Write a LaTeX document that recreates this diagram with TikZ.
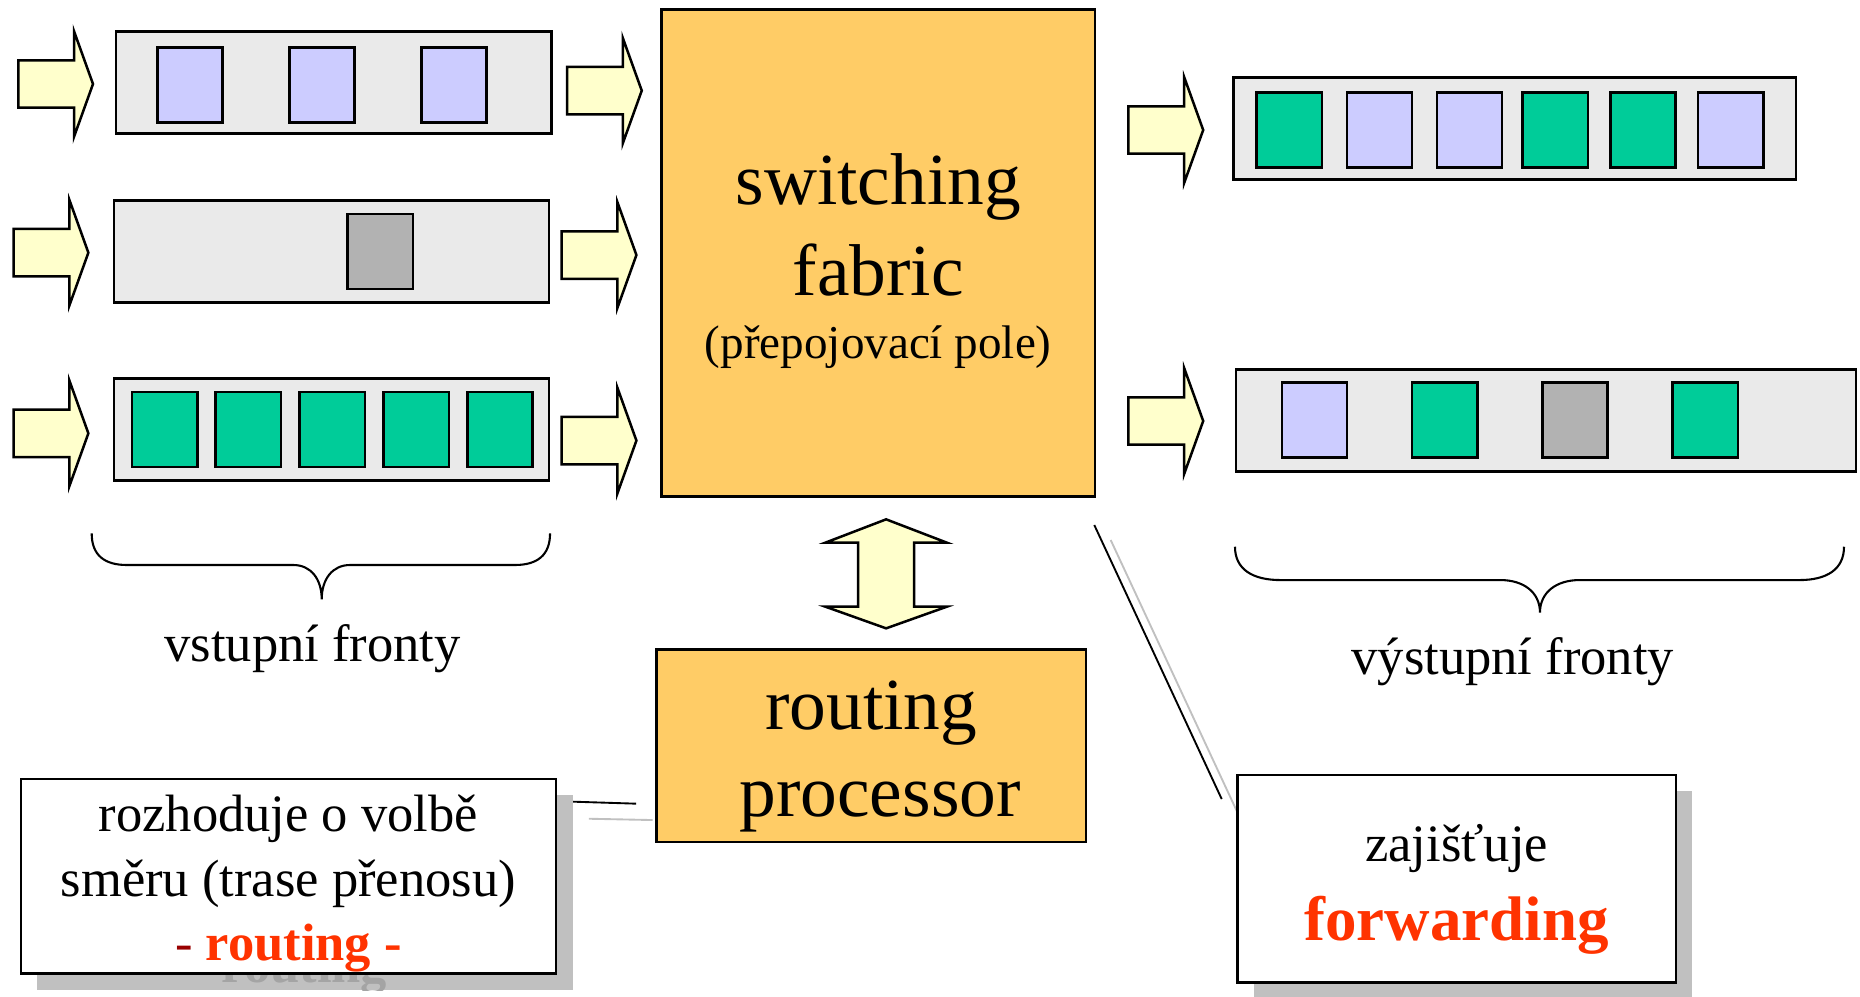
\documentclass[tikz,border=0pt]{standalone}
\usepackage{fontspec}
\setmainfont{Liberation Serif}
\usetikzlibrary{positioning,calc}

\definecolor{queuebg}{HTML}{EAEAEA}
\definecolor{pktblue}{HTML}{CCCCFF}
\definecolor{pktgreen}{HTML}{00CC99}
\definecolor{pktgray}{HTML}{B2B2B2}
\definecolor{arrowfill}{HTML}{FFFFCC}
\definecolor{unitfill}{HTML}{FFCC66}
\definecolor{shadowgray}{HTML}{C0C0C0}
\definecolor{ghostgray}{HTML}{A4A4A4}
\definecolor{fwred}{HTML}{FF3300}
\definecolor{dashred}{HTML}{990000}

\tikzset{
  queue/.style={draw, line width=0.6pt, fill=queuebg, minimum height=0.86cm, inner sep=0pt},
  packet/.style={draw, line width=0.6pt, minimum width=0.55cm, minimum height=0.63cm, inner sep=0pt},
  bluepkt/.style={packet, fill=pktblue},
  greenpkt/.style={packet, fill=pktgreen},
  graypkt/.style={packet, fill=pktgray},
  unit/.style={draw, line width=0.6pt, fill=unitfill, inner sep=0pt},
  callout/.style={draw, line width=0.6pt, fill=white, inner sep=0pt},
  calloutshadow/.style={fill=shadowgray, inner sep=0pt},
  leader/.style={line width=0.45pt},
  leadershadow/.style={line width=0.45pt, draw=shadowgray},
  braceline/.style={line width=0.5pt},
  bigtext/.style={anchor=base, inner sep=0pt, font=\fontsize{17.6}{21}\selectfont},
  smalltext/.style={anchor=base, inner sep=0pt, font=\fontsize{11.3}{13.5}\selectfont},
  labeltext/.style={anchor=base, inner sep=0pt, font=\fontsize{12.6}{15}\selectfont},
  fatarrow/.pic={
    \draw[fill=arrowfill, line width=0.6pt] (0,0) -- (-0.16,0.445) -- (-0.16,0.2)
      -- (-0.63,0.2) -- (-0.63,-0.2) -- (-0.16,-0.2) -- (-0.16,-0.445) -- cycle;
  }
}

\begin{document}
\begin{tikzpicture}
\useasboundingbox (0,0) rectangle (15.68,-8.40);

% input queues
\node[queue, minimum width=3.67cm] (in1) at (2.814,-0.694) {};
\node[queue, minimum width=3.67cm] (in2) at (2.795,-2.119) {};
\node[queue, minimum width=3.67cm] (in3) at (2.795,-3.619) {};
\foreach \x [count=\i] in {1.602,2.715,3.827}
  \node[bluepkt] (in1p\i) at (\x,-0.717) {};
\node[graypkt] (in2p1) at (3.206,-2.12) {};
\foreach \x [count=\i] in {1.388,2.092,2.800,3.508,4.216}
  \node[greenpkt] (in3p\i) at (\x,-3.62) {};

% arrows in front of and behind the input queues
\pic at (0.784,-0.708) {fatarrow};
\pic at (0.745,-2.130) {fatarrow};
\pic at (0.745,-3.653) {fatarrow};
\pic at (5.410,-0.764) {fatarrow};
\pic at (5.365,-2.150) {fatarrow};
\pic at (5.365,-3.714) {fatarrow};

% switching fabric
\node[unit, minimum width=3.653cm, minimum height=4.108cm] (fabric) at (7.404,-2.133) {};
\node[bigtext] (fabric1) at (7.404,-1.728) {switching};
\node[bigtext] (fabric2) at (7.404,-2.487) {fabric};
\node[smalltext] (fabric3) at (7.404,-3.020) {(přepojovací pole)};

% output queues
\pic at (10.143,-1.096) {fatarrow};
\pic at (10.143,-3.549) {fatarrow};
\node[queue, minimum width=4.744cm] (out1) at (12.769,-1.085) {};
\foreach \x/\c [count=\i] in {10.868/greenpkt,11.629/bluepkt,12.388/bluepkt,13.111/greenpkt,13.850/greenpkt,14.590/bluepkt}
  \node[\c] (out1p\i) at (\x,-1.095) {};
\node[queue, minimum width=5.23cm] (out2) at (13.033,-3.544) {};
\foreach \x/\c [count=\i] in {11.082/bluepkt,12.179/greenpkt,13.278/graypkt,14.376/greenpkt}
  \node[\c] (out2p\i) at (\x,-3.541) {};

% braces
\draw[braceline] (0.773,-4.496) .. controls (0.773,-4.68) and (0.88,-4.763) .. (1.07,-4.763)
  -- (2.473,-4.763) .. controls (2.62,-4.763) and (2.712,-4.88) .. (2.712,-5.053)
  .. controls (2.712,-4.88) and (2.804,-4.763) .. (2.951,-4.763) -- (4.34,-4.763)
  .. controls (4.53,-4.763) and (4.637,-4.68) .. (4.637,-4.496);
\node[labeltext] (inlabel) at (2.635,-5.578) {vstupní fronty};
\draw[braceline] (10.411,-4.609) .. controls (10.411,-4.80) and (10.56,-4.89) .. (10.796,-4.89)
  -- (12.65,-4.89) .. controls (12.84,-4.89) and (12.982,-4.99) .. (12.982,-5.165)
  .. controls (12.982,-4.99) and (13.124,-4.89) .. (13.314,-4.89) -- (15.168,-4.89)
  .. controls (15.40,-4.89) and (15.545,-4.80) .. (15.545,-4.609);
\node[labeltext] (outlabel) at (12.753,-5.690) {výstupní fronty};

% routing processor and the double arrow
\coordinate (dbltop) at (7.47,-4.378);
\coordinate (dblbot) at (7.47,-5.297);
\draw[fill=arrowfill, line width=0.6pt] (dbltop) -- ++(0.513,-0.197) -- ++(-0.278,0)
  -- ++(0,-0.539) -- ++(0.278,0) -- (dblbot) -- ++(-0.513,0.183) -- ++(0.278,0)
  -- ++(0,0.539) -- ++(-0.278,0) -- cycle;
\node[unit, minimum width=3.62cm, minimum height=1.622cm] (proc) at (7.345,-6.285) {};
\node[bigtext] (proc1) at (7.345,-6.148) {routing};
\node[bigtext] (proc2) at (7.42,-6.885) {processor};

% callout: routing
\coordinate (rtA) at (4.826,-6.758);
\coordinate (rtB) at (5.363,-6.775);
\draw[leadershadow] ($(rtA)+(0.139,-0.144)$) -- ($(rtB)+(0.139,-0.138)$);
\draw[leader] (rtA) -- (rtB);
\node[calloutshadow, minimum width=4.512cm, minimum height=1.641cm] (rtshadow) at (2.571,-7.5225) {};
\begin{scope}
  \clip (rtshadow.south west) rectangle (rtshadow.north east);
  \node[labeltext, font=\bfseries\fontsize{12.6}{15}\selectfont, text=ghostgray] (rtghost) at (2.566,-8.283) {\phantom{- }routing\phantom{ -}};
\end{scope}
\node[callout, minimum width=4.512cm, minimum height=1.641cm] (rtbox) at (2.431,-7.3875) {};
\node[labeltext] (rt1) at (2.431,-7.011) {rozhoduje o volbě};
\node[labeltext] (rt2) at (2.431,-7.559) {směru (trase přenosu)};
\node[labeltext] (rt3) at (2.431,-8.093) {{\color{dashred}-} {\bfseries\color{fwred}routing -}};

% callout: forwarding
\coordinate (fwA) at (9.225,-4.426);
\coordinate (fwB) at (10.299,-6.736);
\draw[leadershadow] ($(fwA)+(0.138,-0.126)$) -- ($(fwB)+(0.13,-0.107)$);
\draw[leader] (fwA) -- (fwB);
\node[calloutshadow, minimum width=3.696cm, minimum height=1.747cm] (fwshadow) at (12.419,-7.5375) {};
\node[callout, minimum width=3.696cm, minimum height=1.747cm] (fwbox) at (12.279,-7.4075) {};
\node[labeltext] (fw1) at (12.279,-7.264) {zajišťuje};
\node[labeltext, font=\bfseries\fontsize{15.1}{18}\selectfont, text=fwred] (fw2) at (12.279,-7.925) {forwarding};
\end{tikzpicture}
\end{document}
